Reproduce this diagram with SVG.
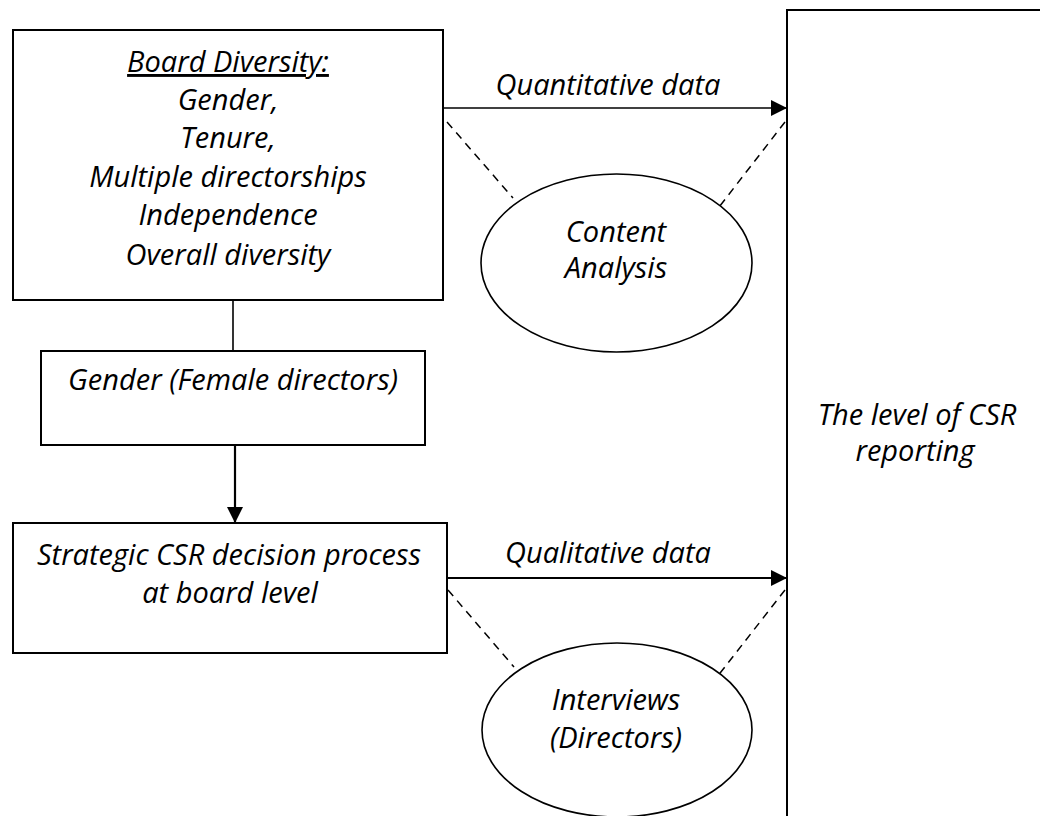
<svg xmlns="http://www.w3.org/2000/svg" width="1040" height="816" viewBox="0 0 1040 816">
  <style>
    .box { fill: #fff; stroke: #000; stroke-width: 2; }
    .oval { fill: #fff; stroke: #000; stroke-width: 1.6; }
    .lbl { font-family: "Open Sans", Lato, "Liberation Sans", sans-serif; font-style: italic; font-size: 29px; fill: #000; text-anchor: middle; }
    .link { stroke: #000; stroke-width: 1.6; fill: none; }
    .thick { stroke-width: 2.2; }
    .dash { stroke: #000; stroke-width: 1.5; stroke-dasharray: 8 6; fill: none; }
  </style>
  <defs>
    <marker id="head" viewBox="0 0 16 16" refX="16" refY="8" markerWidth="16" markerHeight="16" markerUnits="userSpaceOnUse" orient="auto">
      <path d="M0,0 L16,8 L0,16 Z" fill="#000"/>
    </marker>
  </defs>
  <rect width="1040" height="816" fill="#fff"/>

  <g id="connectors">
    <line class="link" x1="233" y1="300" x2="233" y2="351"/>
    <line class="link thick" x1="235" y1="445" x2="235" y2="523" marker-end="url(#head)"/>
    <line class="link" x1="443" y1="108" x2="787" y2="108" marker-end="url(#head)"/>
    <line class="link thick" x1="447" y1="578" x2="787" y2="578" marker-end="url(#head)"/>
    <line class="dash" x1="447" y1="122" x2="513" y2="198"/>
    <line class="dash" x1="785" y1="122" x2="716" y2="211"/>
    <line class="dash" x1="448" y1="590" x2="514" y2="667"/>
    <line class="dash" x1="785" y1="590" x2="717" y2="677"/>
    <text class="lbl" x="608" y="95">Quantitative data</text>
    <text class="lbl" x="608" y="563">Qualitative data</text>
  </g>

  <g id="board-diversity">
    <rect class="box" x="13" y="30" width="430" height="270"/>
    <text class="lbl" x="228" y="72" text-decoration="underline">Board Diversity:</text>
    <text class="lbl" x="228" y="110">Gender,</text>
    <text class="lbl" x="228" y="148">Tenure,</text>
    <text class="lbl" x="228" y="187">Multiple directorships</text>
    <text class="lbl" x="228" y="225">Independence</text>
    <text class="lbl" x="228" y="265">Overall diversity</text>
  </g>

  <g id="gender">
    <rect class="box" x="41" y="351" width="384" height="94"/>
    <text class="lbl" x="233" y="390">Gender (Female directors)</text>
  </g>

  <g id="strategic">
    <rect class="box" x="13" y="523" width="434" height="130"/>
    <text class="lbl" x="229" y="565">Strategic CSR decision process</text>
    <text class="lbl" x="230" y="603">at board level</text>
  </g>

  <g id="content-analysis">
    <ellipse class="oval" cx="616.5" cy="263" rx="135.5" ry="89"/>
    <text class="lbl" x="616" y="242">Content</text>
    <text class="lbl" x="616" y="278">Analysis</text>
  </g>

  <g id="interviews">
    <ellipse class="oval" cx="617" cy="730" rx="135" ry="87"/>
    <text class="lbl" x="616" y="710">Interviews</text>
    <text class="lbl" x="616" y="748">(Directors)</text>
  </g>

  <g id="csr-reporting">
    <rect class="box" x="787" y="10" width="280" height="830"/>
    <text class="lbl" x="917" y="425">The level of CSR</text>
    <text class="lbl" x="915" y="461">reporting</text>
  </g>
</svg>
